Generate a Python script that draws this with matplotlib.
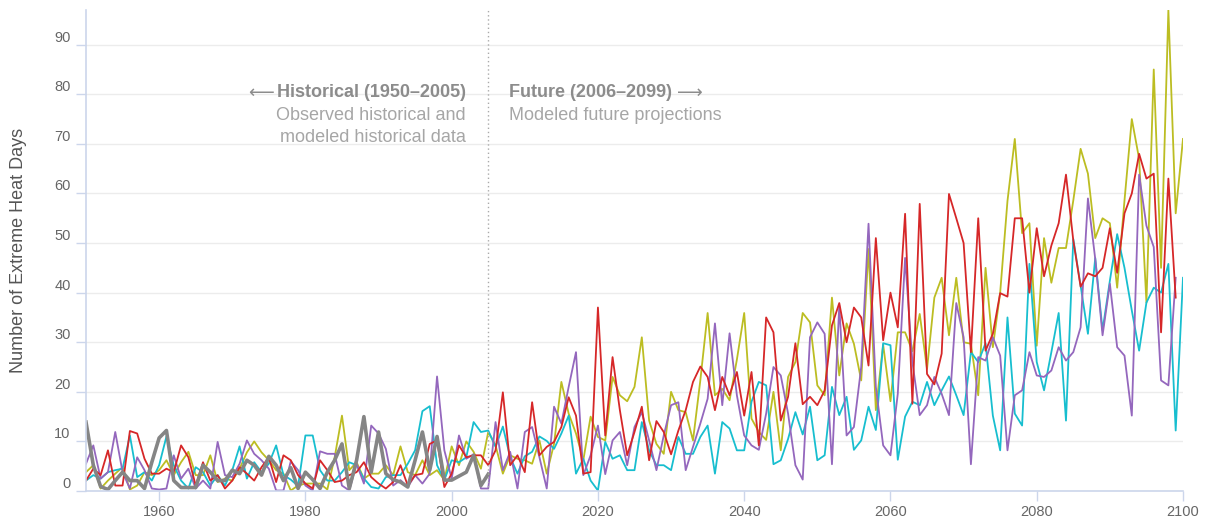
"""
extreme heat days: observed (1950-2005) and modeled (1950-2100) series
"""

import matplotlib
matplotlib.use('Agg')
import matplotlib.pyplot as plt

plt.rcParams['font.family'] = ['Liberation Sans', 'DejaVu Sans']

# observed historical series, 1950-2005
obs_years = list(range(1950, 2006))
observed = [13.9, 5.2, 0.9, 0.3, 2.1, 3.8, 2.1, 2.1, 0.5, 5.8,
            10.7, 12.2, 2.1, 0.7, 0.7, 0.7, 5.2, 3.8, 2.1, 2.1,
            4.2, 3.5, 6.2, 5.2, 3.2, 7.0, 5.2, 2.1, 4.7, 0.5,
            3.8, 2.3, 0.5, 3.8, 6.2, 9.5, 0.5, 6.2, 15.0, 3.8,
            11.9, 3.5, 2.3, 1.8, 0.8, 6.2, 11.9, 4.2, 11.0, 2.2,
            2.2, 3.0, 3.8, 7.2, 1.1, 3.4]

# model runs
red_years = list(range(1950, 2100))
red = [2.1, 4.5, 3.2, 8.2, 1.1, 1.1, 12.1, 11.6, 6.5, 3.5,
       3.5, 4.5, 3.8, 9.2, 6.8, 1.1, 5.8, 2.1, 3.2, 0.5,
       2.1, 4.8, 3.5, 2.1, 4.8, 6.8, 1.8, 7.2, 6.2, 3.2,
       1.5, 0.5, 6.2, 4.2, 1.8, 2.1, 3.2, 3.8, 5.8, 2.8,
       1.5, 0.5, 1.8, 5.2, 1.1, 3.2, 3.5, 9.5, 10.2, 0.8,
       3.5, 9.2, 6.8, 7.2, 7.2, 5.2, 8.2, 19.9, 5.2, 7.2,
       3.8, 17.9, 7.2, 8.9, 9.9, 12.9, 18.9, 15.2, 3.5, 3.8,
       37.0, 11.2, 27.0, 16.3, 7.2, 11.9, 17.0, 6.2, 14.1, 11.9,
       7.4, 12.2, 16.3, 22.0, 25.1, 23.0, 16.3, 23.0, 19.3, 24.0,
       15.2, 24.0, 9.2, 35.0, 32.0, 14.2, 19.0, 29.8, 17.5, 19.0,
       17.3, 20.3, 33.4, 37.9, 30.0, 37.0, 35.0, 25.3, 51.0, 30.4,
       40.0, 33.0, 55.9, 17.6, 57.9, 23.6, 21.5, 27.7, 59.9, 55.0,
       50.0, 28.0, 55.0, 28.3, 31.7, 39.9, 39.2, 55.0, 55.0, 40.0,
       53.0, 43.3, 49.5, 54.0, 63.8, 50.5, 41.2, 43.9, 43.3, 45.0,
       53.0, 44.0, 56.0, 60.0, 68.0, 63.0, 64.0, 32.0, 63.0, 39.0]

yellow_years = list(range(1950, 2101))
yellow = [3.8, 5.2, 0.5, 2.1, 3.5, 4.8, 0.3, 1.1, 3.8, 3.2,
          4.2, 6.2, 3.2, 5.8, 7.9, 3.2, 3.2, 7.2, 1.8, 2.5,
          2.1, 4.5, 7.8, 10.0, 7.8, 6.2, 4.2, 3.5, 0.1, 1.1,
          1.5, 1.5, 1.5, 0.3, 6.8, 15.2, 4.2, 5.8, 2.5, 3.5,
          3.5, 5.2, 3.2, 9.0, 3.8, 3.2, 6.2, 3.2, 4.2, 2.2,
          9.0, 5.2, 10.0, 7.9, 4.5, 11.9, 9.2, 3.5, 7.2, 6.5,
          6.2, 5.5, 10.2, 3.5, 9.5, 22.0, 15.6, 11.6, 6.2, 15.0,
          10.9, 10.2, 23.0, 19.3, 18.1, 21.0, 31.0, 14.2, 9.5, 7.5,
          20.0, 16.3, 15.9, 10.2, 22.3, 35.9, 19.3, 20.6, 18.3, 26.5,
          35.9, 14.6, 11.9, 10.3, 20.0, 8.2, 23.0, 26.0, 35.9, 34.0,
          21.3, 19.3, 39.0, 23.3, 33.8, 29.7, 22.3, 48.8, 16.3, 29.5,
          18.1, 32.0, 32.0, 28.2, 35.7, 24.6, 39.0, 43.0, 31.4, 43.0,
          30.0, 29.7, 19.3, 45.0, 29.0, 40.0, 58.5, 71.0, 52.0, 54.0,
          29.3, 51.0, 42.0, 49.0, 49.0, 58.6, 69.0, 64.0, 51.0, 55.0,
          54.0, 41.0, 58.6, 75.0, 67.0, 38.0, 85.0, 45.0, 97.0, 56.0,
          71.0]

cyan_years = list(range(1950, 2101))
cyan = [2.1, 3.2, 2.5, 3.8, 4.2, 4.5, 11.2, 2.8, 3.8, 2.1,
        5.2, 11.0, 5.2, 2.1, 0.5, 4.8, 3.8, 1.1, 3.2, 1.1,
        4.2, 9.0, 2.5, 5.8, 3.8, 5.5, 9.2, 3.2, 2.3, 1.0,
        11.2, 11.2, 4.2, 2.1, 2.1, 3.8, 5.8, 5.2, 2.5, 0.8,
        0.5, 2.8, 3.2, 3.2, 5.5, 8.2, 16.1, 17.1, 5.2, 2.2,
        6.2, 5.8, 6.8, 13.9, 11.9, 12.2, 8.9, 13.0, 6.8, 3.5,
        7.0, 7.9, 11.0, 10.1, 8.5, 11.6, 15.2, 3.5, 6.5, 2.1,
        0.1, 9.9, 6.5, 7.2, 4.2, 4.2, 13.9, 8.2, 5.2, 5.2,
        4.2, 10.9, 7.5, 7.5, 10.9, 13.2, 3.5, 13.9, 12.6, 8.2,
        8.2, 18.0, 22.0, 21.3, 5.4, 6.2, 10.5, 15.9, 11.4, 17.0,
        6.2, 7.2, 21.0, 15.3, 19.0, 8.3, 10.2, 17.0, 12.3, 29.8,
        29.4, 6.3, 15.0, 18.0, 17.3, 22.0, 17.3, 20.3, 23.1, 19.3,
        15.3, 28.0, 26.0, 29.8, 15.2, 8.2, 35.0, 15.6, 13.2, 45.8,
        26.0, 20.3, 28.0, 35.9, 14.2, 50.8, 41.4, 31.7, 47.0, 32.4,
        42.4, 51.8, 45.0, 36.4, 28.3, 38.0, 41.0, 40.0, 45.8, 12.2,
        43.0]

purple_years = list(range(1950, 2100))
purple = [5.5, 9.2, 2.5, 3.8, 11.9, 3.8, 0.5, 6.8, 4.2, 0.5,
          0.3, 0.5, 7.2, 2.5, 4.5, 0.5, 2.1, 0.5, 9.9, 3.2,
          2.8, 5.5, 10.2, 7.5, 6.2, 4.5, 0.1, 0.1, 6.0, 4.2,
          1.1, 0.1, 8.0, 7.5, 7.5, 1.1, 0.1, 5.5, 1.5, 13.2,
          11.6, 8.5, 1.1, 2.2, 0.8, 3.2, 1.5, 3.5, 23.1, 8.2,
          2.5, 11.2, 6.5, 7.4, 0.5, 0.5, 13.9, 4.2, 7.9, 0.5,
          11.9, 12.9, 6.8, 0.5, 17.0, 13.6, 21.0, 28.0, 3.2, 7.2,
          13.2, 3.4, 10.2, 11.9, 5.2, 12.9, 15.9, 10.2, 4.2, 11.2,
          17.3, 17.9, 4.2, 8.9, 13.6, 18.6, 33.8, 17.3, 31.8, 19.3,
          11.2, 9.2, 8.3, 15.6, 25.0, 23.3, 15.6, 5.2, 2.3, 31.0,
          34.0, 31.7, 5.4, 37.4, 11.2, 12.9, 25.0, 53.9, 21.0, 9.2,
          7.2, 19.6, 47.0, 26.0, 15.3, 17.3, 23.0, 19.6, 15.3, 37.9,
          31.0, 5.4, 27.0, 26.3, 31.0, 27.3, 8.2, 19.3, 20.3, 28.0,
          23.3, 23.0, 24.3, 29.0, 26.3, 28.0, 33.0, 59.0, 46.8, 31.4,
          41.8, 29.0, 27.3, 15.2, 63.8, 53.5, 49.2, 22.3, 21.3, 43.0]

x_ticks = list(range(1960, 2101, 20))
y_ticks = list(range(0, 91, 10))
split_year = 2005

AXIS = '#ccd6eb'
GRID = '#ececec'
LABEL = '#666666'
NOTE_BOLD = '#8c8c8c'
NOTE = '#a6a6a6'
NOTE_SIZE = 13

fig = plt.figure(figsize=(12.11, 5.19), dpi=100)
ax = fig.add_axes([86 / 1211, 28 / 519, 1097 / 1211, 481 / 519])

ax.plot(yellow_years, yellow, color='#bcbd22', lw=1.3)
ax.plot(cyan_years, cyan, color='#17becf', lw=1.3)
ax.plot(purple_years, purple, color='#9467bd', lw=1.3)
ax.plot(red_years, red, color='#d62728', lw=1.3)
ax.plot(obs_years, observed, color='#858585', lw=2.6)

ax.axvline(split_year, color='#aaaaaa', lw=1, ls=(0, (1, 2)))

ax.set_xlim(1950, 2100)
ax.set_ylim(0, 97)
ax.set_xticks(x_ticks)
ax.set_yticks(y_ticks)
ax.grid(axis='y', color=GRID, lw=1)
ax.set_axisbelow(True)

for side in ('top', 'right'):
    ax.spines[side].set_visible(False)
for side in ('left', 'bottom'):
    ax.spines[side].set_color(AXIS)
    ax.spines[side].set_linewidth(1.2)

ax.tick_params(axis='both', colors=AXIS, labelcolor=LABEL, length=7,
               width=1, labelsize=10.5)
ax.tick_params(axis='y', pad=4)
ax.tick_params(axis='x', pad=3)
for lbl in ax.get_yticklabels():
    lbl.set_verticalalignment('bottom')

ax.set_ylabel('Number of Extreme Heat Days', fontsize=13, color='#555555')
ax.yaxis.set_label_coords(-0.054, 0.5)

# period annotations
renderer = fig.canvas.get_renderer()
hist = fig.text(466 / 1211, 1 - 92 / 519, 'Historical (1950\u20132005)',
                ha='right', va='center', fontsize=NOTE_SIZE,
                fontweight='bold', color=NOTE_BOLD)
hist_left = hist.get_window_extent(renderer).x0
fig.text((hist_left - 3) / 1211, 1 - 93 / 519, '\u27f5', ha='right',
         va='center', fontsize=NOTE_SIZE, color=NOTE_BOLD,
         family=['DejaVu Sans'])
fig.text(466 / 1211, 1 - 116 / 519, 'Observed historical and',
         ha='right', va='center', fontsize=NOTE_SIZE, color=NOTE)
fig.text(466 / 1211, 1 - 137 / 519, 'modeled historical data',
         ha='right', va='center', fontsize=NOTE_SIZE, color=NOTE)

fut = fig.text(509 / 1211, 1 - 92 / 519, 'Future (2006\u20132099)',
               ha='left', va='center', fontsize=NOTE_SIZE,
               fontweight='bold', color=NOTE_BOLD)
fut_right = fut.get_window_extent(renderer).x1
fig.text((fut_right + 5) / 1211, 1 - 93 / 519, '\u27f6', ha='left',
         va='center', fontsize=NOTE_SIZE, color=NOTE_BOLD,
         family=['DejaVu Sans'])
fig.text(509 / 1211, 1 - 116 / 519, 'Modeled future projections',
         ha='left', va='center', fontsize=NOTE_SIZE, color=NOTE)

fig.savefig('out.png', dpi=100)
